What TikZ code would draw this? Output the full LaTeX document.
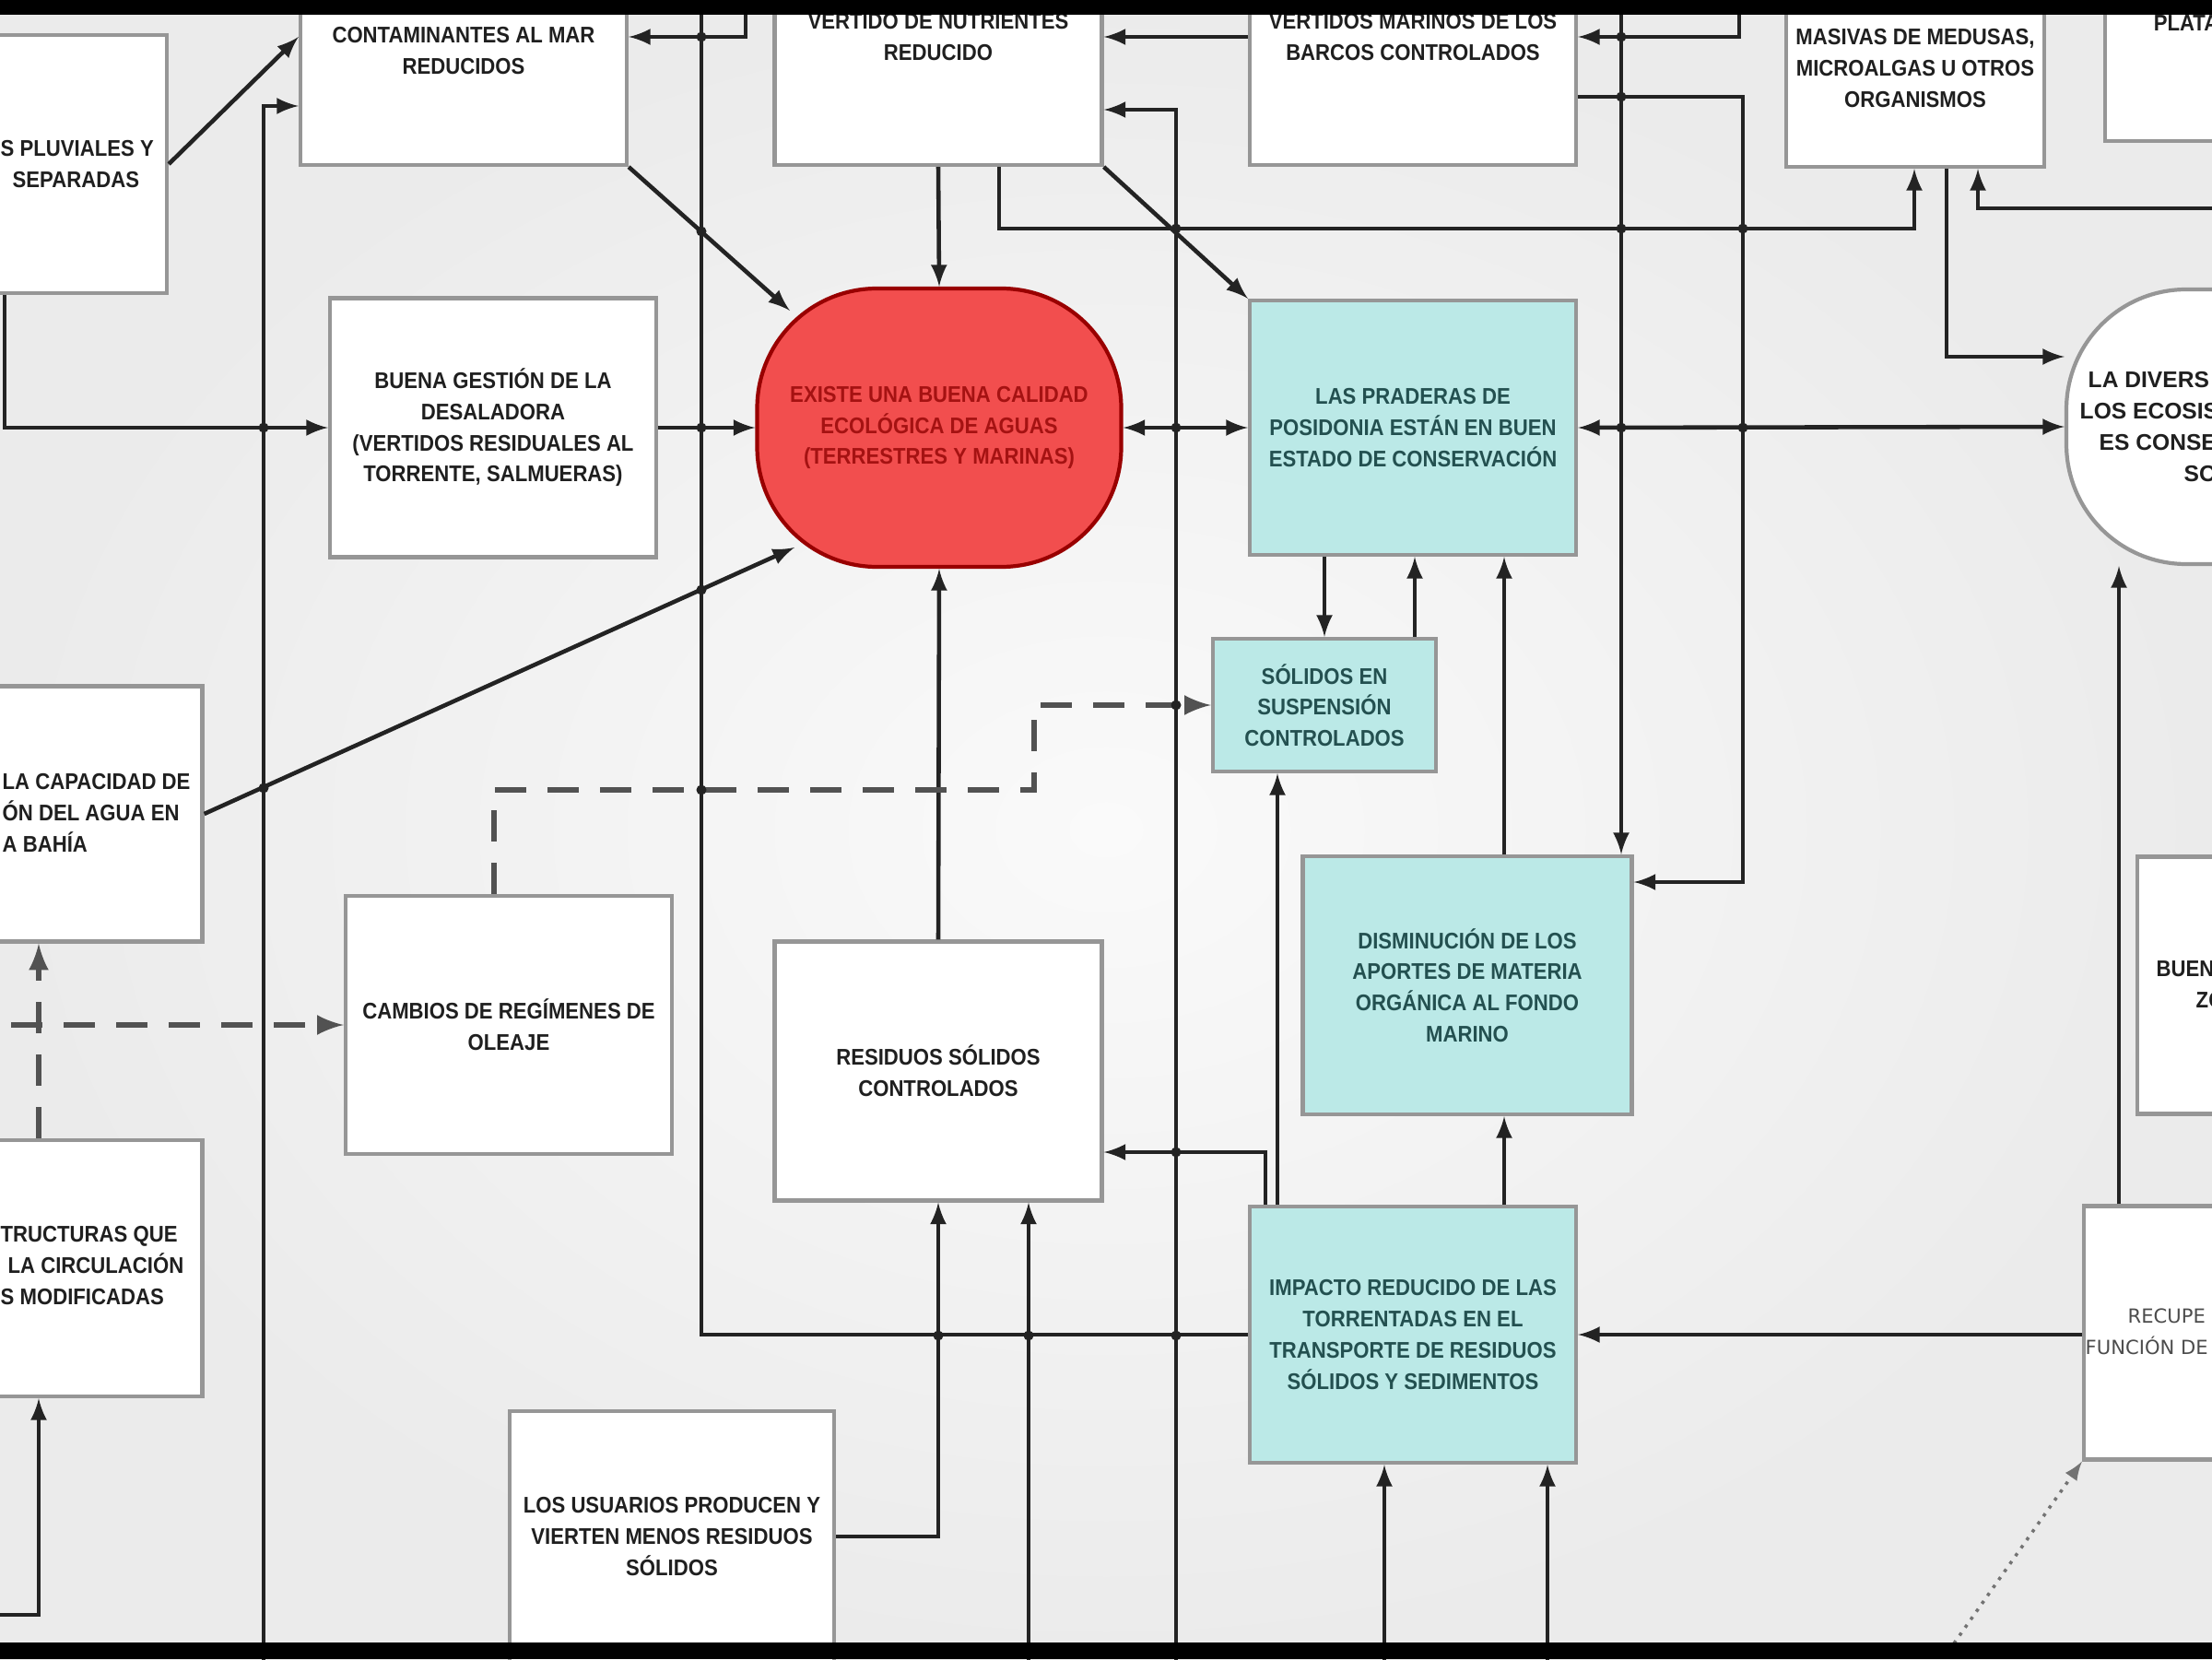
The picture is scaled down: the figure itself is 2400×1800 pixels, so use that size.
\documentclass[tikz,border=0pt]{standalone}
\usepackage{fontspec}
\setsansfont{Liberation Sans}
\newfontfamily\boxfont{Liberation Sans}[FakeStretch=0.9]
\newfontfamily\widefont{DejaVu Sans}
\usepackage{tikz}
\usetikzlibrary{calc}

\definecolor{bgcol}{RGB}{235,235,235}
\definecolor{bginner}{RGB}{250,250,250}
\definecolor{cyanbox}{RGB}{187,233,231}
\definecolor{redbox}{RGB}{242,78,78}
\definecolor{tealtext}{RGB}{35,80,80}
\definecolor{redtext}{RGB}{165,18,18}
\definecolor{boxline}{RGB}{150,150,150}
\definecolor{wire}{RGB}{35,35,35}

\begin{document}
\begin{tikzpicture}[x=0.1mm,y=-0.1mm,
    box/.style={draw=boxline,line width=1.2pt,fill=white,align=center,inner sep=0pt,
        font=\boxfont\bfseries\fontsize{7pt}{9.6pt}\selectfont,text=black!88},
    cyanbox/.style={box,fill=cyanbox,text=tealtext},
    redbox/.style={box,fill=redbox,draw=red!60!black,rounded corners=13mm,text=redtext},
    cuttext/.style={align=left,anchor=west,inner sep=0pt,
        font=\boxfont\bfseries\fontsize{7pt}{9.6pt}\selectfont,text=black!88},
    thintext/.style={cuttext,font=\widefont\fontsize{6pt}{9.6pt}\selectfont,text=black!70},
    conn/.style={draw=wire,line width=1.3pt,-latex},
    dashconn/.style={draw=black!68,line width=1.8pt,dash pattern=on 3.4mm off 2.3mm,-latex},
    dotconn/.style={draw=black!55,line width=1pt,dotted,-latex}]

                              % Background
                              \useasboundingbox (0,0) rectangle (2400,1800);
                              \clip (0,0) rectangle (2400,1800);
                              \shade[inner color=bginner,outer color=bgcol] (0,0) rectangle (2400,1800);

                              % Boxes
                              \node[box,minimum width=35.2mm,minimum height=28mm] (pluv) at (5,178) {};
                              \node[cuttext] (pluvtxt) at (0,178) {S PLUVIALES Y\\\hspace*{1.3mm}SEPARADAS};
                              \node[box,minimum width=35.4mm,minimum height=24.8mm] (cont) at (503,55) {CONTAMINANTES AL MAR\\REDUCIDOS};
                              \node[box,minimum width=35.5mm,minimum height=27.8mm] (nutr) at (1018,40) {VERTIDO DE NUTRIENTES\\REDUCIDO};
                              \node[box,minimum width=35.4mm,minimum height=27.8mm] (barc) at (1533,40) {VERTIDOS MARINOS DE LOS\\BARCOS CONTROLADOS};
                              \node[box,minimum width=28mm,minimum height=21.4mm] (medu) at (2078,74) {MASIVAS DE MEDUSAS,\\MICROALGAS U OTROS\\ORGANISMOS};
                              \node[box,minimum width=17.6mm,minimum height=25.6mm] (plat) at (2372,25) {PLATA};

                              \node[redbox,minimum width=39.5mm,minimum height=30.2mm] (red) at (1019,464) {EXISTE UNA BUENA CALIDAD\\ECOLÓGICA DE AGUAS\\(TERRESTRES Y MARINAS)};
                              \node[cyanbox,minimum width=35.4mm,minimum height=27.6mm] (prad) at (1533,464) {LAS PRADERAS DE\\POSIDONIA ESTÁN EN BUEN\\ESTADO DE CONSERVACIÓN};
                              \node[box,rounded corners=13mm,minimum width=40mm,minimum height=29.8mm] (dive) at (2442,463) {};
                              \node[cuttext,font=\sffamily\bfseries\fontsize{7pt}{9.6pt}\selectfont] (divetxt) at (2256,463) {\hspace*{0.9mm}LA DIVERS\\LOS ECOSIS\\\hspace*{2.1mm}ES CONSER\\\hspace*{11.3mm}SO};
                              \node[box,minimum width=35.4mm,minimum height=28.1mm] (desa) at (535,464) {BUENA GESTIÓN DE LA\\DESALADORA\\(VERTIDOS RESIDUALES AL\\TORRENTE, SALMUERAS)};

                              \node[box,minimum width=35.9mm,minimum height=27.7mm] (capa) at (40,883) {};
                              \node[cuttext] (capatxt) at (2,882) {LA CAPACIDAD DE\\ÓN DEL AGUA EN\\A BAHÍA};
                              \node[box,minimum width=35.4mm,minimum height=28mm] (camb) at (552,1112) {CAMBIOS DE REGÍMENES DE\\OLEAJE};
                              \node[box,minimum width=35.9mm,minimum height=27.8mm] (estr) at (40,1376) {};
                              \node[cuttext] (estrtxt) at (0,1373) {TRUCTURAS QUE\\\hspace*{0.8mm}LA CIRCULACIÓN\\S MODIFICADAS};
                              \node[box,minimum width=35.5mm,minimum height=28.1mm] (resi) at (1018,1162) {RESIDUOS SÓLIDOS\\CONTROLADOS};
                              \node[box,minimum width=35.2mm,minimum height=27.2mm] (usua) at (729,1667) {LOS USUARIOS PRODUCEN Y\\VIERTEN MENOS RESIDUOS\\SÓLIDOS};

                              \node[cyanbox,minimum width=24.2mm,minimum height=14.4mm] (solid) at (1437,765) {SÓLIDOS EN\\SUSPENSIÓN\\CONTROLADOS};
                              \node[cyanbox,minimum width=35.7mm,minimum height=28mm] (dism) at (1592,1069) {DISMINUCIÓN DE LOS\\APORTES DE MATERIA\\ORGÁNICA AL FONDO\\MARINO};
                              \node[cyanbox,minimum width=35.4mm,minimum height=27.8mm] (impa) at (1533,1448) {IMPACTO REDUCIDO DE LAS\\TORRENTADAS EN EL\\TRANSPORTE DE RESIDUOS\\SÓLIDOS Y SEDIMENTOS};

                              \node[box,minimum width=24.2mm,minimum height=27.9mm] (zona) at (2440,1069) {};
                              \node[cuttext] (zonatxt) at (2339,1068) {BUENA\\\hspace*{4.3mm}ZO};
                              \node[box,minimum width=25.8mm,minimum height=27.5mm] (recu) at (2390,1446) {};
                              \node[thintext] (recutxt) at (2262,1445) {\hspace*{4.6mm}RECUPE\\FUNCIÓN DE};

                              % Free ends and bends
                              \coordinate (t1) at (809,-30);   \coordinate (t2) at (1887,-30);
                              \coordinate (t3) at (1759,-30);  \coordinate (t4) at (761,-30);
                              \coordinate (b1) at (286,1850);  \coordinate (b2) at (1276,1850);
                              \coordinate (b3) at (1116,1850); \coordinate (b4) at (1502,1850);
                              \coordinate (b5) at (1679,1850); \coordinate (b6) at (2120,1783);
                              \coordinate (e1) at (2450,226);  \coordinate (w1) at (-20,1752);
                              \coordinate (w2) at (12,1112);
                              \coordinate (r40) at (0,40);     \coordinate (r105) at (0,105);
                              \coordinate (r115) at (0,115);   \coordinate (r119) at (0,119);
                              \coordinate (r387) at (0,387);
                              \coordinate (c42) at (42,0);     \coordinate (c536) at (536,0);
                              \coordinate (c1084) at (1084,0); \coordinate (c1386) at (1386,0);
                              \coordinate (c1535) at (1535,0); \coordinate (c1632) at (1632,0);
                              \coordinate (c2112) at (2112,0); \coordinate (c2146) at (2146,0);
                              \coordinate (c2299) at (2299,0);
                              \coordinate (k2) at (2077,248);  \coordinate (k5) at (1891,957);
                              \coordinate (k10) at (1373,1250); \coordinate (k13) at (1122,857);

                              % Connectors, top rows
                              \draw[conn] (pluv.east) -- (cont.west |- r40);
                              \draw[conn] (pluv.south) |- (desa.west);
                              \draw[conn] (b1) |- (cont.west |- r115);
                              \draw[conn] (t1) |- (cont.east |- r40);
                              \draw[conn] (cont.south east) -- ($(red.center)+(-162,-127)$);
                              \draw[conn] (nutr.south) -- (red.north);
                              \draw[conn] (nutr.south east) -- (prad.north west);
                              \draw[conn] (nutr.south -| c1084) |- (k2) -- (medu.south -| k2);
                              \draw[conn] (medu.south -| c2112) |- (dive.west |- r387);
                              \draw[conn] (e1) -| (medu.south -| c2146);
                              \draw[conn] (barc.west |- r40) -- (nutr.east |- r40);
                              \draw[conn] (t2) |- (barc.east |- r40);
                              \draw[conn] (barc.east |- r105) -| (k5) -- (dism.east |- k5);
                              \draw[conn] (t3) -- (dism.north -| t3);
                              \draw[conn] (b2) |- (nutr.east |- r119);
                              \draw[draw=wire,line width=1.3pt] (impa.west) -| (t4);

                              % Connectors, middle rows
                              \draw[conn] (desa.east) -- (red.west);
                              \draw[conn,latex-latex] (red.east) -- (prad.west);
                              \draw[conn,latex-latex] (prad.east) -- (dive.west);
                              \draw[conn] (capa.east) -- ($(red.center)+(-157,130)$);
                              \draw[conn] (resi.north) -- (red.south);
                              \draw[conn] (prad.south -| solid.north) -- (solid.north);
                              \draw[conn] (solid.north -| c1535) -- (prad.south -| c1535);
                              \draw[conn] (dism.north -| c1632) -- (prad.south -| c1632);
                              \draw[conn] (impa.north -| c1386) -- (solid.south -| c1386);
                              \draw[conn] (impa.north -| k10) |- (resi.east |- k10);
                              \draw[conn] (impa.north -| c1632) -- (dism.south -| c1632);

                              % Connectors, bottom rows
                              \draw[conn] (b4) -- (impa.south -| b4);
                              \draw[conn] (b5) -- (impa.south -| b5);
                              \draw[conn] (usua.east) -| (resi.south);
                              \draw[conn] (b3) -- (resi.south -| b3);
                              \draw[conn] (w1) -| (estr.south -| c42);
                              \draw[conn] (recu.west |- impa.east) -- (impa.east);
                              \draw[conn] (recu.north -| c2299) -- (dive.south -| c2299);
                              \draw[dotconn] (b6) -- (recu.south west);

                              % Dashed links
                              \draw[dashconn] (estr.north -| c42) -- (capa.south -| c42);
                              \draw[dashconn] (w2) -- (camb.west);
                              \draw[dashconn] (camb.north -| c536) |- (k13) |- (solid.west);

                              % Crossing dots
                              \foreach \p in {(286,464),(286,855),(761,40),(761,251),(761,464),(761,640),(761,857),
                                  (1276,248),(1276,464),(1276,765),(1276,1250),(1276,1449),
                                  (1759,40),(1759,105),(1759,248),(1759,464),(1891,248),(1891,464),
                                  (1018,1449),(1116,1449)}
                                  \fill[wire] \p circle[radius=0.55mm];

                              % Frame bars
                              \fill[black] (0,0) rectangle (2400,16);
                              \fill[black] (0,1782) rectangle (2400,1800);
                        \end{tikzpicture}
\end{document}
